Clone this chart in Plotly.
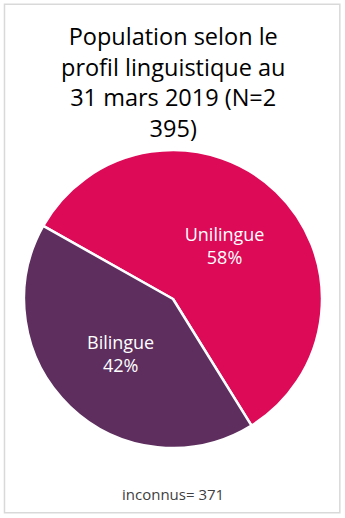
import plotly.graph_objects as go

# Population by language profile (percent of known cases)
profils = ["Unilingue", "Bilingue"]
pourcentages = [58, 42]
couleurs = ["#dc0a57", "#5d2e5e"]
inconnus = 371
titre = "Population selon le<br>profil linguistique au<br>31 mars 2019 (N=2<br>395)"

fig = go.Figure(
    go.Pie(
        labels=profils,
        values=pourcentages,
        sort=False,
        direction="clockwise",
        rotation=-60.6,
        marker=dict(colors=couleurs, line=dict(color="white", width=2.5)),
        texttemplate="%{label}<br>%{percent:.0%}",
        textposition="inside",
        insidetextorientation="horizontal",
        insidetextfont=dict(family="Open Sans", size=18, color="white"),
        hoverinfo="label+percent",
        showlegend=False,
        domain=dict(x=[0.0696, 0.9333], y=[0.1351, 0.7104]),
    )
)

fig.update_layout(
    width=345,
    height=518,
    margin=dict(l=0, r=0, t=0, b=0),
    paper_bgcolor="white",
    plot_bgcolor="white",
    annotations=[
        dict(
            text=titre,
            x=0.5,
            y=0.965,
            xref="paper",
            yref="paper",
            xanchor="center",
            yanchor="top",
            showarrow=False,
            align="center",
            font=dict(family="Open Sans", size=23.5, color="black"),
        ),
        dict(
            text=f"inconnus= {inconnus}",
            x=0.5,
            y=0.046,
            xref="paper",
            yref="paper",
            xanchor="center",
            yanchor="middle",
            showarrow=False,
            font=dict(family="Open Sans", size=15, color="#404040"),
        ),
    ],
    shapes=[
        dict(
            type="rect",
            xref="paper",
            yref="paper",
            x0=0.013,
            x1=0.985,
            y0=0.01,
            y1=0.992,
            line=dict(color="#d9d9d9", width=1.5),
        )
    ],
)

fig.write_html("out.html")
